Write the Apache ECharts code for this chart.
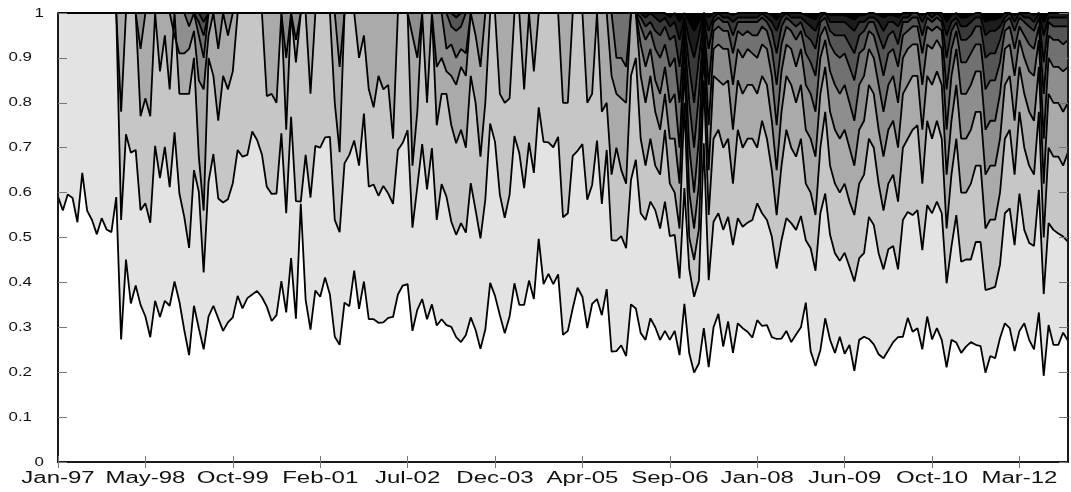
<!DOCTYPE html>
<html>
<head>
<meta charset="UTF-8">
<title></title>
<script src="https://cdn.jsdelivr.net/npm/echarts@6/dist/echarts.min.js"></script>
</head>
<body style="margin:0;background:#fff">
<div id="container" style="width:1071px;height:492px"></div>
<script type="text/javascript">
var tickLabels = ['Jan-97', 'May-98', 'Oct-99', 'Feb-01', 'Jul-02', 'Dec-03', 'Apr-05', 'Sep-06', 'Jan-08', 'Jun-09', 'Oct-10', 'Mar-12'];
var yLabels = ['0', '0.1', '0.2', '0.3', '0.4', '0.5', '0.6', '0.7', '0.8', '0.9', '1'];

// cumulative share boundaries, bottom (1) to top (9), one point every 4 weeks
var share1 = [
0.591, 0.560, 0.596, 0.588, 0.534, 0.644, 0.560, 0.539, 0.507, 0.543,
0.518, 0.512, 0.590, 0.273, 0.451, 0.353, 0.393, 0.350, 0.324, 0.278,
0.359, 0.323, 0.359, 0.348, 0.402, 0.357, 0.294, 0.238, 0.348, 0.298,
0.251, 0.324, 0.348, 0.320, 0.292, 0.311, 0.322, 0.370, 0.342, 0.365,
0.373, 0.381, 0.367, 0.346, 0.314, 0.327, 0.403, 0.333, 0.454, 0.319,
0.575, 0.361, 0.295, 0.382, 0.368, 0.411, 0.373, 0.279, 0.261, 0.355,
0.347, 0.426, 0.341, 0.402, 0.318, 0.318, 0.310, 0.311, 0.321, 0.323,
0.373, 0.393, 0.396, 0.292, 0.339, 0.363, 0.318, 0.351, 0.304, 0.318,
0.305, 0.301, 0.278, 0.267, 0.283, 0.322, 0.294, 0.252, 0.295, 0.399,
0.370, 0.327, 0.287, 0.324, 0.398, 0.350, 0.350, 0.404, 0.363, 0.497,
0.396, 0.419, 0.396, 0.418, 0.283, 0.292, 0.342, 0.388, 0.368, 0.298,
0.352, 0.363, 0.327, 0.385, 0.246, 0.247, 0.260, 0.236, 0.351, 0.342,
0.287, 0.272, 0.320, 0.300, 0.272, 0.292, 0.272, 0.292, 0.238, 0.352,
0.242, 0.199, 0.220, 0.298, 0.211, 0.300, 0.330, 0.257, 0.313, 0.243,
0.309, 0.298, 0.290, 0.277, 0.316, 0.303, 0.305, 0.278, 0.274, 0.275,
0.292, 0.267, 0.284, 0.300, 0.355, 0.247, 0.214, 0.249, 0.320, 0.272,
0.243, 0.279, 0.241, 0.261, 0.203, 0.272, 0.279, 0.274, 0.262, 0.240,
0.231, 0.249, 0.267, 0.278, 0.279, 0.321, 0.290, 0.298, 0.251, 0.324,
0.273, 0.298, 0.272, 0.211, 0.272, 0.266, 0.243, 0.257, 0.267, 0.261,
0.258, 0.199, 0.236, 0.231, 0.276, 0.309, 0.298, 0.247, 0.292, 0.309,
0.272, 0.251, 0.333, 0.192, 0.305, 0.261, 0.261, 0.288, 0.270
];
var share2 = [
1, 1, 1, 1, 1, 1, 1, 1, 1, 1,
1, 1, 1, 0.539, 0.730, 0.689, 0.695, 0.561, 0.576, 0.533,
0.704, 0.632, 0.702, 0.612, 0.734, 0.598, 0.546, 0.477, 0.650, 0.602,
0.422, 0.624, 0.686, 0.587, 0.578, 0.585, 0.621, 0.695, 0.680, 0.684,
0.736, 0.717, 0.685, 0.613, 0.597, 0.598, 0.732, 0.554, 0.769, 0.581,
0.580, 0.684, 0.589, 0.704, 0.700, 0.723, 0.724, 0.539, 0.512, 0.665,
0.684, 0.716, 0.660, 0.776, 0.613, 0.618, 0.593, 0.615, 0.598, 0.575,
0.695, 0.711, 0.739, 0.522, 0.613, 0.708, 0.607, 0.699, 0.539, 0.619,
0.591, 0.535, 0.506, 0.532, 0.511, 0.621, 0.561, 0.498, 0.584, 0.754,
0.713, 0.595, 0.544, 0.595, 0.726, 0.688, 0.610, 0.711, 0.644, 0.790,
0.713, 0.712, 0.701, 0.724, 0.545, 0.554, 0.682, 0.693, 0.708, 0.584,
0.617, 0.716, 0.575, 0.695, 0.494, 0.493, 0.503, 0.476, 0.628, 0.673,
0.554, 0.539, 0.580, 0.561, 0.520, 0.580, 0.503, 0.506, 0.409, 0.610,
0.430, 0.368, 0.405, 0.710, 0.405, 0.535, 0.554, 0.517, 0.546, 0.483,
0.543, 0.524, 0.533, 0.539, 0.576, 0.554, 0.539, 0.502, 0.431, 0.494,
0.543, 0.532, 0.517, 0.548, 0.494, 0.476, 0.426, 0.554, 0.598, 0.506,
0.465, 0.448, 0.466, 0.435, 0.402, 0.454, 0.465, 0.546, 0.528, 0.465,
0.429, 0.474, 0.481, 0.429, 0.539, 0.557, 0.550, 0.561, 0.472, 0.572,
0.554, 0.580, 0.554, 0.398, 0.480, 0.550, 0.446, 0.451, 0.451, 0.490,
0.490, 0.383, 0.386, 0.390, 0.440, 0.554, 0.565, 0.483, 0.598, 0.517,
0.488, 0.481, 0.606, 0.374, 0.532, 0.517, 0.509, 0.502, 0.490
];
var share3 = [
1, 1, 1, 1, 1, 1, 1, 1, 1, 1,
1, 1, 1, 0.78, 1, 1, 1, 0.77, 0.81, 0.77,
1, 0.87, 0.95, 0.83, 1, 0.82, 0.82, 0.82, 0.90, 0.68,
0.56, 0.90, 0.86, 0.76, 0.86, 0.83, 0.87, 1, 1, 1,
1, 1, 1, 0.815, 0.82, 0.80, 1, 0.74, 1, 0.89,
1, 1, 0.82, 1, 1, 1, 1, 0.80, 0.69, 1,
1, 1, 0.90, 0.95, 0.83, 0.79, 0.86, 0.83, 0.84, 0.72,
1, 1, 1, 0.66, 0.78, 1, 0.80, 1, 0.75, 0.82,
0.82, 0.75, 0.71, 0.74, 0.70, 0.86, 0.80, 0.68, 0.80, 1,
1, 0.82, 0.80, 0.81, 1, 1, 0.83, 1, 0.87, 1,
1, 1, 1, 1, 0.80, 0.80, 1, 1, 1, 0.80,
0.82, 1, 0.78, 0.80, 0.64, 0.70, 0.65, 0.62, 0.86, 0.90,
0.72, 0.66, 0.72, 0.66, 0.64, 0.74, 0.62, 0.60, 0.52, 0.80,
0.50, 0.45, 0.52, 0.85, 0.55, 0.72, 0.74, 0.70, 0.72, 0.62,
0.74, 0.70, 0.72, 0.72, 0.70, 0.76, 0.72, 0.65, 0.55, 0.66,
0.74, 0.70, 0.68, 0.72, 0.62, 0.60, 0.55, 0.70, 0.78, 0.66,
0.62, 0.60, 0.62, 0.58, 0.55, 0.62, 0.64, 0.72, 0.70, 0.62,
0.56, 0.62, 0.64, 0.58, 0.70, 0.72, 0.74, 0.75, 0.62, 0.76,
0.72, 0.76, 0.72, 0.52, 0.64, 0.72, 0.60, 0.60, 0.62, 0.66,
0.66, 0.52, 0.54, 0.54, 0.60, 0.72, 0.74, 0.64, 0.78, 0.70,
0.66, 0.64, 0.78, 0.50, 0.70, 0.68, 0.68, 0.66, 0.69
];
var share4 = [
1, 1, 1, 1, 1, 1, 1, 1, 1, 1,
1, 1, 1, 1, 1, 1, 1, 0.92, 1, 1,
1, 1, 1, 1, 0.95, 0.91, 0.91, 0.92, 0.96, 0.85,
0.83, 0.95, 1, 0.92, 1, 0.95, 1, 1, 1, 1,
1, 1, 1, 1, 1, 1, 1, 0.90, 1, 0.94,
1, 1, 1, 1, 1, 1, 1, 1, 0.88, 1,
1, 1, 1, 1, 1, 1, 1, 1, 1, 1,
1, 1, 1, 0.95, 0.90, 1, 1, 1, 0.88, 0.90,
0.87, 0.86, 0.84, 0.88, 0.86, 1, 0.95, 0.88, 1, 1,
1, 1, 1, 1, 1, 1, 1, 1, 1, 1,
1, 1, 1, 1, 1, 1, 1, 1, 1, 1,
1, 1, 1, 1, 0.86, 0.82, 0.81, 0.80, 1, 1,
0.86, 0.80, 0.86, 0.78, 0.74, 0.82, 0.72, 0.72, 0.62, 0.88,
0.60, 0.52, 0.62, 0.92, 0.65, 0.86, 0.85, 0.84, 0.85, 0.74,
0.85, 0.82, 0.84, 0.84, 0.82, 0.86, 0.84, 0.76, 0.65, 0.78,
0.86, 0.84, 0.80, 0.84, 0.74, 0.72, 0.68, 0.82, 0.88, 0.78,
0.74, 0.72, 0.74, 0.70, 0.66, 0.74, 0.76, 0.84, 0.82, 0.74,
0.68, 0.74, 0.76, 0.70, 0.82, 0.84, 0.86, 0.86, 0.74, 0.86,
0.84, 0.87, 0.84, 0.64, 0.76, 0.84, 0.72, 0.72, 0.74, 0.78,
0.78, 0.64, 0.66, 0.66, 0.72, 0.84, 0.86, 0.76, 0.88, 0.82,
0.78, 0.76, 0.88, 0.62, 0.82, 0.80, 0.80, 0.78, 0.80
];
var share5 = [
1, 1, 1, 1, 1, 1, 1, 1, 1, 1,
1, 1, 1, 1, 1, 1, 1, 1, 1, 1,
1, 1, 1, 1, 1, 1, 1, 0.97, 1, 0.95,
0.90, 1, 1, 1, 1, 1, 1, 1, 1, 1,
1, 1, 1, 1, 1, 1, 1, 1, 1, 1,
1, 1, 1, 1, 1, 1, 1, 1, 1, 1,
1, 1, 1, 1, 1, 1, 1, 1, 1, 1,
1, 1, 1, 1, 1, 1, 1, 1, 1, 1,
0.92, 0.93, 0.90, 0.92, 0.91, 1, 1, 1, 1, 1,
1, 1, 1, 1, 1, 1, 1, 1, 1, 1,
1, 1, 1, 1, 1, 1, 1, 1, 1, 1,
1, 1, 1, 1, 1, 0.90, 0.90, 0.88, 1, 1,
0.93, 0.88, 0.92, 0.85, 0.82, 0.88, 0.80, 0.82, 0.70, 0.93,
0.70, 0.60, 0.72, 0.96, 0.75, 0.92, 0.93, 0.92, 0.92, 0.84,
0.92, 0.90, 0.92, 0.91, 0.90, 0.93, 0.92, 0.86, 0.75, 0.87,
0.93, 0.92, 0.88, 0.92, 0.84, 0.82, 0.78, 0.90, 0.94, 0.87,
0.84, 0.82, 0.84, 0.80, 0.76, 0.84, 0.86, 0.92, 0.90, 0.84,
0.78, 0.84, 0.86, 0.80, 0.90, 0.92, 0.93, 0.93, 0.84, 0.93,
0.92, 0.94, 0.92, 0.74, 0.86, 0.92, 0.82, 0.82, 0.84, 0.87,
0.87, 0.74, 0.76, 0.76, 0.82, 0.92, 0.93, 0.86, 0.94, 0.90,
0.87, 0.86, 0.94, 0.72, 0.90, 0.88, 0.88, 0.87, 0.88
];
var share6 = [
1, 1, 1, 1, 1, 1, 1, 1, 1, 1,
1, 1, 1, 1, 1, 1, 1, 1, 1, 1,
1, 1, 1, 1, 1, 1, 1, 1, 1, 0.98,
0.95, 1, 1, 1, 1, 1, 1, 1, 1, 1,
1, 1, 1, 1, 1, 1, 1, 1, 1, 1,
1, 1, 1, 1, 1, 1, 1, 1, 1, 1,
1, 1, 1, 1, 1, 1, 1, 1, 1, 1,
1, 1, 1, 1, 1, 1, 1, 1, 1, 1,
1, 0.97, 0.96, 0.97, 1, 1, 1, 1, 1, 1,
1, 1, 1, 1, 1, 1, 1, 1, 1, 1,
1, 1, 1, 1, 1, 1, 1, 1, 1, 1,
1, 1, 1, 1, 1, 1, 1, 1, 1, 1,
0.97, 0.94, 0.96, 0.92, 0.90, 0.93, 0.88, 0.90, 0.80, 0.96,
0.80, 0.70, 0.82, 0.98, 0.84, 0.96, 0.97, 0.96, 0.96, 0.91,
0.96, 0.95, 0.96, 0.95, 0.95, 0.97, 0.96, 0.92, 0.84, 0.93,
0.97, 0.96, 0.94, 0.96, 0.91, 0.89, 0.86, 0.95, 0.97, 0.93,
0.91, 0.90, 0.91, 0.88, 0.85, 0.91, 0.92, 0.96, 0.95, 0.91,
0.86, 0.91, 0.92, 0.88, 0.95, 0.96, 0.97, 0.97, 0.91, 0.97,
0.96, 0.97, 0.96, 0.83, 0.92, 0.96, 0.89, 0.89, 0.91, 0.93,
0.93, 0.83, 0.85, 0.85, 0.89, 0.96, 0.97, 0.92, 0.97, 0.95,
0.93, 0.92, 0.97, 0.82, 0.95, 0.94, 0.94, 0.93, 0.94
];
var share7 = [
1, 1, 1, 1, 1, 1, 1, 1, 1, 1,
1, 1, 1, 1, 1, 1, 1, 1, 1, 1,
1, 1, 1, 1, 1, 1, 1, 1, 1, 1,
0.98, 1, 1, 1, 1, 1, 1, 1, 1, 1,
1, 1, 1, 1, 1, 1, 1, 1, 1, 1,
1, 1, 1, 1, 1, 1, 1, 1, 1, 1,
1, 1, 1, 1, 1, 1, 1, 1, 1, 1,
1, 1, 1, 1, 1, 1, 1, 1, 1, 1,
1, 1, 0.99, 1, 1, 1, 1, 1, 1, 1,
1, 1, 1, 1, 1, 1, 1, 1, 1, 1,
1, 1, 1, 1, 1, 1, 1, 1, 1, 1,
1, 1, 1, 1, 1, 1, 1, 1, 1, 1,
0.99, 0.97, 0.98, 0.96, 0.95, 0.97, 0.94, 0.95, 0.88, 0.98,
0.88, 0.80, 0.90, 0.99, 0.92, 0.98, 0.99, 0.98, 0.98, 0.95,
0.98, 0.98, 0.98, 0.98, 0.98, 0.99, 0.98, 0.96, 0.91, 0.97,
0.99, 0.98, 0.97, 0.98, 0.95, 0.94, 0.92, 0.98, 0.99, 0.96,
0.95, 0.95, 0.95, 0.93, 0.91, 0.95, 0.96, 0.98, 0.98, 0.95,
0.92, 0.95, 0.96, 0.93, 0.98, 0.98, 0.99, 0.99, 0.95, 0.99,
0.98, 0.99, 0.98, 0.90, 0.96, 0.98, 0.94, 0.94, 0.95, 0.97,
0.97, 0.90, 0.91, 0.91, 0.94, 0.98, 0.99, 0.96, 0.99, 0.98,
0.97, 0.96, 0.99, 0.89, 0.98, 0.97, 0.97, 0.97, 0.97
];
var share8 = [
1, 1, 1, 1, 1, 1, 1, 1, 1, 1,
1, 1, 1, 1, 1, 1, 1, 1, 1, 1,
1, 1, 1, 1, 1, 1, 1, 1, 1, 1,
1, 1, 1, 1, 1, 1, 1, 1, 1, 1,
1, 1, 1, 1, 1, 1, 1, 1, 1, 1,
1, 1, 1, 1, 1, 1, 1, 1, 1, 1,
1, 1, 1, 1, 1, 1, 1, 1, 1, 1,
1, 1, 1, 1, 1, 1, 1, 1, 1, 1,
1, 1, 1, 1, 1, 1, 1, 1, 1, 1,
1, 1, 1, 1, 1, 1, 1, 1, 1, 1,
1, 1, 1, 1, 1, 1, 1, 1, 1, 1,
1, 1, 1, 1, 1, 1, 1, 1, 1, 1,
1, 0.99, 1, 0.99, 0.98, 0.99, 0.97, 0.98, 0.94, 0.99,
0.94, 0.90, 0.95, 1, 0.96, 0.99, 1, 0.99, 0.99, 0.98,
0.99, 0.99, 0.99, 0.99, 0.99, 1, 0.99, 0.98, 0.96, 0.99,
1, 0.99, 0.99, 0.99, 0.98, 0.97, 0.96, 0.99, 1, 0.98,
0.98, 0.98, 0.98, 0.97, 0.96, 0.98, 0.98, 0.99, 0.99, 0.98,
0.96, 0.98, 0.98, 0.97, 0.99, 0.99, 1, 1, 0.98, 1,
0.99, 1, 0.99, 0.95, 0.98, 0.99, 0.97, 0.97, 0.98, 0.99,
0.99, 0.95, 0.96, 0.96, 0.97, 0.99, 1, 0.98, 1, 0.99,
0.99, 0.98, 1, 0.95, 0.99, 0.99, 0.99, 0.99, 0.99
];
var share9 = [
1, 1, 1, 1, 1, 1, 1, 1, 1, 1,
1, 1, 1, 1, 1, 1, 1, 1, 1, 1,
1, 1, 1, 1, 1, 1, 1, 1, 1, 1,
1, 1, 1, 1, 1, 1, 1, 1, 1, 1,
1, 1, 1, 1, 1, 1, 1, 1, 1, 1,
1, 1, 1, 1, 1, 1, 1, 1, 1, 1,
1, 1, 1, 1, 1, 1, 1, 1, 1, 1,
1, 1, 1, 1, 1, 1, 1, 1, 1, 1,
1, 1, 1, 1, 1, 1, 1, 1, 1, 1,
1, 1, 1, 1, 1, 1, 1, 1, 1, 1,
1, 1, 1, 1, 1, 1, 1, 1, 1, 1,
1, 1, 1, 1, 1, 1, 1, 1, 1, 1,
1, 1, 1, 1, 1, 1, 0.99, 1, 0.98, 1,
0.98, 0.96, 0.98, 1, 0.99, 1, 1, 1, 1, 0.995,
1, 1, 1, 1, 1, 1, 1, 0.995, 0.985, 1,
1, 1, 1, 1, 0.995, 0.99, 0.985, 1, 1, 0.995,
0.995, 0.995, 0.995, 0.99, 0.985, 0.995, 0.995, 1, 1, 0.995,
0.99, 0.995, 0.995, 0.99, 1, 1, 1, 1, 0.995, 1,
1, 1, 1, 0.98, 0.995, 1, 0.99, 0.99, 0.995, 1,
1, 0.98, 0.985, 0.985, 0.99, 1, 1, 0.995, 1, 1,
1, 0.995, 1, 0.98, 1, 1, 1, 1, 1
];

// fill under each boundary: layer k sits between boundary k-1 and k
var layerColors = ['#ffffff', '#e3e3e3', '#c6c6c6', '#aaaaaa', '#8e8e8e', '#717171', '#555555', '#393939', '#1c1c1c'];
var bounds = [share1, share2, share3, share4, share5, share6, share7, share8, share9];

// one point every 28 days from early January 1997
var categories = [];
var t0 = Date.UTC(1997, 0, 7);
for (var i = 0; i < share1.length; i++) {
    categories.push(new Date(t0 + i * 28 * 86400000).toISOString().slice(0, 10));
}

var dom = document.getElementById('container');
var myChart = echarts.init(dom);

var series = [];
for (var k = bounds.length - 1; k >= 0; k--) {
    series.push({
        name: 'share' + (k + 1),
        type: 'line',
        data: bounds[k],
        symbol: 'none',
        silent: true,
        lineStyle: {color: '#000', width: 1.8},
        areaStyle: {color: layerColors[k], opacity: 1}
    });
}

var tickStyle = {color: '#777', width: 1};
var option = {
    animation: false,
    grid: {left: 58, right: 3, top: 13, bottom: 30, show: true, backgroundColor: '#000', borderWidth: 0},
    xAxis: [
        {
            type: 'category', data: categories, boundaryGap: false, z: 5,
            axisLine: {lineStyle: {color: '#1a1a1a', width: 2}},
            axisTick: {inside: true, interval: 17, length: 6, lineStyle: tickStyle},
            axisLabel: {show: false}, splitLine: {show: false}
        },
        {
            type: 'category', data: categories, boundaryGap: false, position: 'top', z: 5,
            axisLine: {lineStyle: {color: '#1a1a1a', width: 2}},
            axisTick: {inside: true, interval: 17, length: 6, lineStyle: tickStyle},
            axisLabel: {show: false}, splitLine: {show: false}
        }
    ],
    yAxis: [
        {
            type: 'value', min: 0, max: 1, interval: 0.1, z: 5,
            axisLine: {show: true, lineStyle: {color: '#1a1a1a', width: 2}},
            axisTick: {show: true, inside: true, length: 9, lineStyle: tickStyle},
            axisLabel: {show: false}, splitLine: {show: false}
        },
        {
            type: 'value', min: 0, max: 1, interval: 0.1, position: 'right', z: 5,
            axisLine: {show: true, lineStyle: {color: '#1a1a1a', width: 2}},
            axisTick: {show: true, inside: true, length: 9, lineStyle: tickStyle},
            axisLabel: {show: false}, splitLine: {show: false}
        }
    ],
    series: series
};
myChart.setOption(option);

// tick labels are drawn stretched sideways, as in the source figure
var labels = [];
tickLabels.forEach(function (t, j) {
    var px = myChart.convertToPixel({xAxisIndex: 0}, categories[j * 18]);
    labels.push({
        type: 'text', x: px, y: 479, scaleX: 1.5, z: 10,
        style: {text: t, align: 'center', verticalAlign: 'middle', font: '16px "Liberation Sans", Arial, sans-serif', fill: '#111'}
    });
});
yLabels.forEach(function (t) {
    var py = myChart.convertToPixel({yAxisIndex: 0}, parseFloat(t));
    labels.push({
        type: 'text', x: t.length > 1 ? 32 : 44, y: py, scaleX: 1.3, z: 10,
        style: {text: t, align: 'right', verticalAlign: 'middle', font: '13px "Liberation Sans", Arial, sans-serif', fill: '#111'}
    });
});
myChart.setOption({graphic: labels});
</script>
</body>
</html>
